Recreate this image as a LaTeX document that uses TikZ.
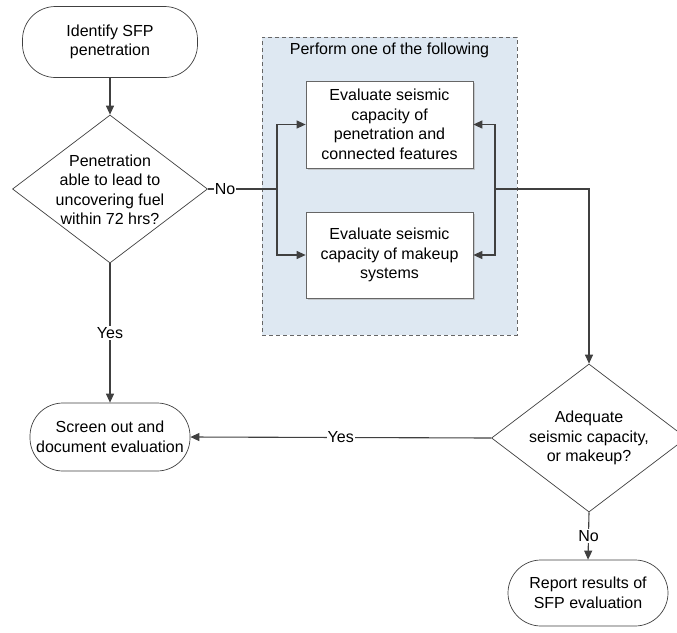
\documentclass[tikz,border=0pt]{standalone}
\usepackage{fontspec}
\setmainfont{Liberation Sans}
\usetikzlibrary{shapes.geometric,arrows.meta,shadows}
\definecolor{linegray}{HTML}{404040}
\definecolor{grpblue}{HTML}{DEE8F2}
\begin{document}
\begin{tikzpicture}[x=1pt,y=-1pt,
  every node/.style={font=\fontsize{16}{19.5}\selectfont, text=black},
  term/.style={draw=linegray, line width=0.7pt, fill=white, rectangle, rounded corners=33pt, align=center, inner sep=0pt},
  decision/.style={draw=linegray, line width=0.7pt, fill=white, diamond, minimum width=195pt, minimum height=148pt, inner sep=0pt},
  procbox/.style={draw=linegray!80, line width=0.7pt, fill=white, rectangle, minimum width=167pt, minimum height=87pt, align=center, inner sep=0pt,
    drop shadow={shadow xshift=1.5pt, shadow yshift=-1.5pt, fill=black!30, opacity=0.6}},
  grpbox/.style={draw=linegray!80, dashed, dash pattern=on 4pt off 3pt, line width=0.6pt, fill=grpblue, rectangle, inner sep=0pt},
  conn/.style={draw=linegray, line width=1.1pt},
  arr/.style={conn, -{Triangle[length=9pt,width=8pt]}},
  lbl/.style={fill=white, inner sep=1pt},
]
\useasboundingbox (0,0) rectangle (677,632);
\clip (0,0) rectangle (677,632);

% group box
\node[grpbox, minimum width=255pt, minimum height=298pt] (grp) at (389.5,186) {};
\node (grptitle) at (389.5,50) {Perform one of the following};

% nodes
\node[term, minimum width=175pt, minimum height=71pt] (start) at (110,42) {Identify SFP\\penetration};
\node[decision] (d1) at (110,189) {};
\node[align=center] (d1t) at (110,190) {Penetration\\able to lead to\\uncovering fuel\\within 72 hrs?};
\node[procbox] (b1) at (389.5,124.5) {Evaluate seismic\\capacity of\\penetration and\\connected features};
\node[procbox, minimum height=86pt] (b2) at (389.5,255) {Evaluate seismic\\capacity of makeup\\systems};
\node[decision] (d2) at (589,438) {};
\node[align=center] (d2t) at (589,438) {Adequate\\seismic capacity,\\or makeup?};
\node[term, minimum width=160pt, minimum height=68pt] (scr) at (110,437) {Screen out and\\document evaluation};
\node[term, minimum width=160pt, minimum height=66pt] (rep) at (588,593) {Report results of\\SFP evaluation};

% branch points
\coordinate (bl) at (277,189);
\coordinate (br) at (495,189);

% connectors
\draw[arr] (start.south) -- (d1.north);
\draw[conn] (d1.east) -- node[lbl, pos=0.25] {No} (bl);
\draw[arr] (bl) |- (b1.west);
\draw[arr] (bl) |- (b2.west);
\draw[arr] (br) |- (b1.east);
\draw[arr] (br) |- (b2.east);
\draw[arr] (br) -| (d2.north);
\draw[arr] (d1.south) -- node[lbl] {Yes} (scr.north);
\draw[arr] (d2.west) -- node[lbl, pos=0.5] {Yes} (scr.east);
\draw[arr] (d2.south) -- node[lbl] {No} (rep.north);
\end{tikzpicture}
\end{document}
